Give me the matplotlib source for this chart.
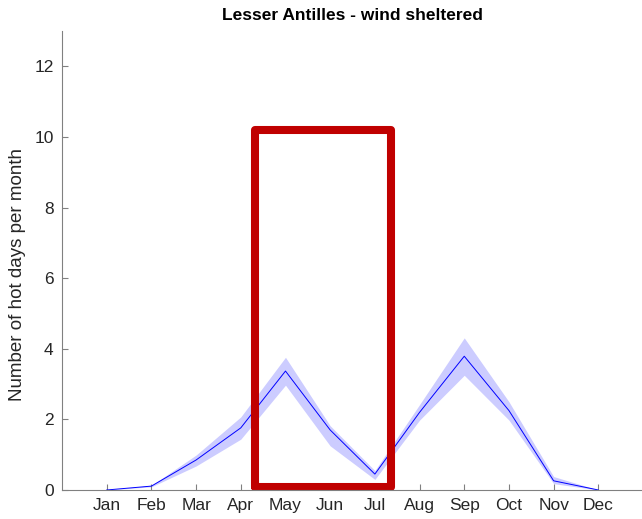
import matplotlib.pyplot as plt
import numpy as np

plt.rcParams['font.family'] = ['Liberation Sans', 'DejaVu Sans']

months = ["Jan", "Feb", "Mar", "Apr", "May", "Jun", "Jul", "Aug", "Sep", "Oct", "Nov", "Dec"]
hot_days = [0.0, 0.11, 0.85, 1.76, 3.37, 1.70, 0.45, 2.20, 3.79, 2.25, 0.26, 0.0]
band_low = [0.0, 0.09, 0.68, 1.44, 2.97, 1.25, 0.30, 1.98, 3.25, 1.98, 0.18, 0.0]
band_high = [0.0, 0.13, 0.99, 2.07, 3.76, 1.82, 0.55, 2.42, 4.31, 2.50, 0.38, 0.0]

# highlight box (months)
box_x = [4.31, 7.37]
box_y = [0.08, 10.19]

x = np.arange(1, len(months) + 1)

fig = plt.figure(figsize=(6.42, 5.19), dpi=100)
ax = fig.add_axes([0.0966, 0.0559, 0.905, 0.884])

ax.fill_between(x, band_low, band_high, color='#ccccff', linewidth=0)
ax.plot(x, hot_days, color='#0000ff', linewidth=0.7)

ax.plot([box_x[0], box_x[1], box_x[1], box_x[0], box_x[0]],
        [box_y[0], box_y[0], box_y[1], box_y[1], box_y[0]],
        color='#c00000', linewidth=5.8, solid_joinstyle='round', solid_capstyle='round')

ax.set_xlim(0, 13)
ax.set_ylim(0, 13)
ax.set_xticks(x)
ax.set_xticklabels(months)
ax.set_yticks([0, 2, 4, 6, 8, 10, 12])

for s in ['top', 'right']:
    ax.spines[s].set_visible(False)
for s in ['left', 'bottom']:
    ax.spines[s].set_color('#808080')
    ax.spines[s].set_linewidth(0.8)
ax.tick_params(direction='in', length=4, width=0.8, color='#808080',
               labelsize=12.5, labelcolor='#262626', pad=6)

ax.set_ylabel('Number of hot days per month', fontsize=13.5, color='#262626')
ax.yaxis.set_label_coords(-0.062, 0.47)
ax.set_title('Lesser Antilles - wind sheltered', fontsize=12.5, fontweight='bold', pad=8)

fig.savefig('out.png', dpi=100)
